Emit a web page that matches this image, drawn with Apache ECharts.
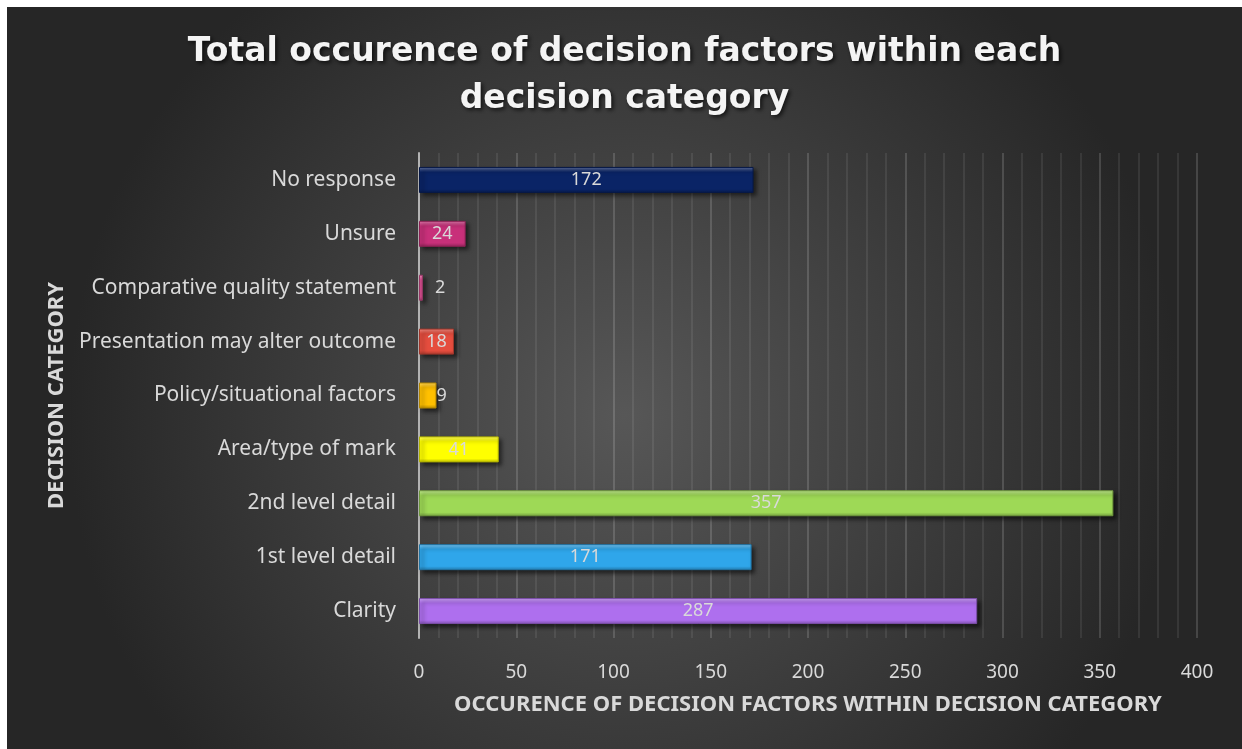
<!DOCTYPE html>
<html>
<head>
<meta charset="utf-8">
<script src="https://cdn.jsdelivr.net/npm/echarts@6/dist/echarts.min.js"></script>
<style>
html,body{margin:0;padding:0;background:#ffffff;width:1242px;height:749px;overflow:hidden;}
#chart{position:absolute;left:7px;top:7px;width:1235px;height:742px;}
</style>
</head>
<body>
<div id="chart"></div>
<script>
// Data (top to bottom as shown)
var categories = ['No response','Unsure','Comparative quality statement','Presentation may alter outcome','Policy/situational factors','Area/type of mark','2nd level detail','1st level detail','Clarity'];
var values = [172, 24, 2, 18, 9, 41, 357, 171, 287];
var barColors = ['#0a2466','#c8307a','#d94f91','#e54d3e','#ffc000','#ffff00','#9ed956','#2fa6ea','#ae6fee'];
var xTicks = [0, 50, 100, 150, 200, 250, 300, 350, 400];

function shade(hex, amt){
  var n = parseInt(hex.slice(1),16);
  var r=(n>>16)&255,g=(n>>8)&255,b=n&255;
  function f(c){ return Math.max(0,Math.min(255,Math.round(amt>0? c+(255-c)*amt : c*(1+amt)))); }
  return 'rgb('+f(r)+','+f(g)+','+f(b)+')';
}

var labelTweaks = {2:{position:'right',distance:12}, 4:{position:'right',distance:0}};

var data = values.map(function(v,i){
  var c = barColors[i];
  var item = {
    value: v,
    itemStyle: {
      color: {type:'linear',x:0,y:0,x2:0,y2:1,colorStops:[
        {offset:0,color:shade(c,0.35)},
        {offset:0.14,color:shade(c,0.1)},
        {offset:0.2,color:c},
        {offset:0.85,color:c},
        {offset:1,color:shade(c,-0.25)}
      ]},
      borderColor: shade(c,-0.3),
      borderWidth: 1,
      shadowColor: 'rgba(0,0,0,0.55)',
      shadowBlur: 4,
      shadowOffsetX: 3,
      shadowOffsetY: 3
    }
  };
  if (labelTweaks[i]) item.label = labelTweaks[i];
  return item;
});

var chart = echarts.init(document.getElementById('chart'));
chart.setOption({
  backgroundColor: {type:'radial', x:0.5, y:0.55, r:0.75, colorStops:[
    {offset:0, color:'#575757'},
    {offset:1, color:'#262626'}
  ]},
  title: {
    text: 'Total occurence of decision factors within each\ndecision category',
    left: 'center',
    top: 17,
    textStyle: {
      color: '#f4f4f4',
      fontFamily: 'DejaVu Sans',
      fontWeight: 'bold',
      fontSize: 33,
      lineHeight: 47,
      textShadowColor: 'rgba(0,0,0,0.7)',
      textShadowBlur: 4,
      textShadowOffsetX: 2,
      textShadowOffsetY: 2
    }
  },
  grid: {left: 412, right: 45, top: 146, bottom: 111},
  xAxis: {
    type: 'value',
    min: xTicks[0],
    max: xTicks[xTicks.length-1],
    interval: 50,
    name: 'OCCURENCE OF DECISION FACTORS WITHIN DECISION CATEGORY',
    nameLocation: 'middle',
    nameGap: 56,
    nameTextStyle: {color:'#d9d9d9', fontFamily:'Noto Sans', fontWeight:'bold', fontSize:22},
    axisLine: {show:false},
    axisTick: {show:false},
    axisLabel: {color:'#d9d9d9', fontFamily:'Noto Sans', fontSize:19, margin:25},
    splitLine: {show:true, lineStyle:{color:'rgba(255,255,255,0.15)', width:2}},
    minorTick: {show:false, splitNumber:5},
    minorSplitLine: {show:true, lineStyle:{color:'rgba(255,255,255,0.08)', width:2}}
  },
  yAxis: {
    type: 'category',
    inverse: true,
    data: categories,
    name: 'DECISION CATEGORY',
    nameLocation: 'middle',
    nameGap: 350,
    nameRotate: 90,
    nameTextStyle: {color:'#d9d9d9', fontFamily:'Noto Sans', fontWeight:'bold', fontSize:22},
    axisLine: {show:true, lineStyle:{color:'#b3b3b3', width:2}},
    axisTick: {show:false},
    axisLabel: {color:'#d9d9d9', fontFamily:'Noto Sans', fontSize:21, margin:23},
    splitLine: {show:false}
  },
  series: [{
    type: 'bar',
    data: data,
    barWidth: 26,
    label: {
      show: true,
      position: 'inside',
      color: '#d9d9d9',
      fontFamily: 'Noto Sans',
      fontSize: 18
    }
  }]
});
</script>
</body>
</html>
